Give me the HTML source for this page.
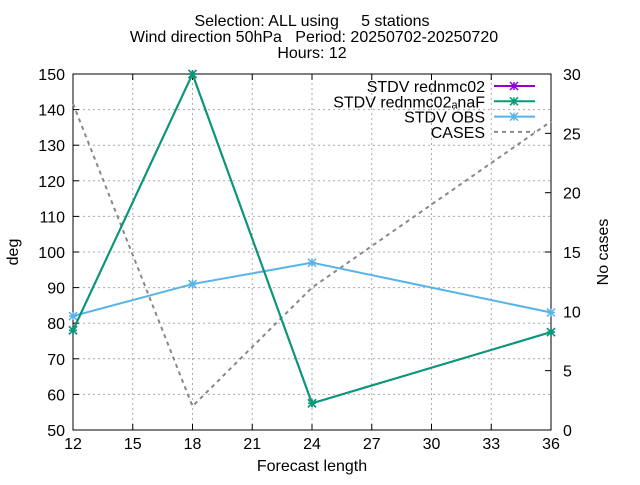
<!DOCTYPE html>
<html><head><meta charset="utf-8"><style>
body{margin:0;background:#fff}
svg{font-family:"Liberation Sans",sans-serif;font-size:16px}
.t{font-size:16px;white-space:pre}
</style></head><body>
<svg id="chart" width="640" height="480">
<g id="grid"></g>
<rect x="73" y="74" width="478" height="356" fill="none" stroke="#000"/>
<g id="axes"></g>
<g id="series"></g>
<text class="t" x="312" y="26" text-anchor="middle">Selection: ALL using     5 stations</text>
<text class="t" x="314" y="42" text-anchor="middle">Wind direction 50hPa   Period: 20250702-20250720</text>
<text class="t" x="312" y="58" text-anchor="middle">Hours: 12</text>
<text x="312" y="471" text-anchor="middle">Forecast length</text>
<text transform="translate(18,252) rotate(-90)" text-anchor="middle">deg</text>
<text transform="translate(608,252) rotate(-90)" text-anchor="middle">No cases</text>
<g id="legend"></g>
</svg>
<script>
const xTicks=[12,15,18,21,24,27,30,33,36];
const yTicks=[50,60,70,80,90,100,110,120,130,140,150];
const y2Ticks=[0,5,10,15,20,25,30];
const steps=[12,18,24,36];
const rednmc02=[78,150,57.5,77.5];
const rednmc02aNaF=[78,150,57.5,77.5];
const obs=[82,91,97,83];
const cases=[27.5,2,12,26];
const X0=73,X1=551,Y0=430,Y1=74;
const sx=v=>X0+(v-12)/(36-12)*(X1-X0);
const sy=v=>Y0-(v-50)/(150-50)*(Y0-Y1);
const sy2=v=>Y0-v/30*(Y0-Y1);
const NS="http://www.w3.org/2000/svg";
function mk(tag,attrs,parent){const e=document.createElementNS(NS,tag);for(const k in attrs)e.setAttribute(k,attrs[k]);document.getElementById(parent).appendChild(e);return e;}
xTicks.forEach(t=>{const x=sx(t);
 if(t!==12&&t!==36){const g=mk('line',{x1:x,x2:x,y1:Y0,y2:Y1,stroke:'#aaa','stroke-dasharray':'2,3'},'grid');}
 mk('line',{x1:x,x2:x,y1:Y0,y2:Y0-6,stroke:'#000'},'axes');mk('line',{x1:x,x2:x,y1:Y1,y2:Y1+6,stroke:'#000'},'axes');
 const tx=mk('text',{x:x,y:Y0+19,'text-anchor':'middle'},'axes');tx.textContent=t;
 });
yTicks.forEach(t=>{const y=sy(t);
 if(t!==50&&t!==150){const g=mk('line',{x1:X0,x2:X1,y1:y,y2:y,stroke:'#aaa','stroke-dasharray':'2,3'},'grid');}
 mk('line',{x1:X0,x2:X0+6,y1:y,y2:y,stroke:'#000'},'axes');
 const tx=mk('text',{x:X0-8,y:y+6,'text-anchor':'end'},'axes');tx.textContent=t;
 });
y2Ticks.forEach(t=>{const y=sy2(t);
 mk('line',{x1:X1,x2:X1-6,y1:y,y2:y,stroke:'#000'},'axes');
 const tx=mk('text',{x:X1+12,y:y+6,'text-anchor':'start'},'axes');tx.textContent=t;
 });
function star(x,y,c,parent){mk('path',{d:`M${x-4},${y-4}L${x+4},${y+4}M${x-4},${y+4}L${x+4},${y-4}M${x-4},${y}L${x+4},${y}M${x},${y-4}L${x},${y+4}`,stroke:c,'stroke-width':1.5},parent);}
function series(vals,scale,c,name,dash,pts){
 const p=mk('polyline',{points:vals.map((v,i)=>sx(steps[i])+','+scale(v)).join(' '),fill:'none',stroke:c,'stroke-width':2,'stroke-dasharray':dash||''},'series');
 
 if(pts)vals.forEach((v,i)=>star(sx(steps[i]),scale(v),c,'series'));}
series(cases,sy2,'#888','cases-line','4,4',false);
series(obs,sy,'#56b4e9','stdv-obs-line','',true);
series(rednmc02,sy,'#9400d3','stdv-rednmc02-line','',true);
series(rednmc02aNaF,sy,'#009e73','stdv-rednmc02anaf-line','',true);
const leg=[['STDV rednmc02','#9400d3',''],['STDV rednmc02\u2090naF','#009e73',''],['STDV OBS','#56b4e9',''],['CASES','#888','4,4']];
leg.forEach((l,i)=>{const y=86+i*15.3;
 const t=mk('text',{x:485,y:y+6,'text-anchor':'end'},'legend');t.textContent=l[0];
 
 mk('line',{x1:494,x2:535,y1:y,y2:y,stroke:l[1],'stroke-width':2,'stroke-dasharray':l[2]},'legend');
 if(i<3)star(514,y,l[1],'legend');});
</script>
</body></html>
